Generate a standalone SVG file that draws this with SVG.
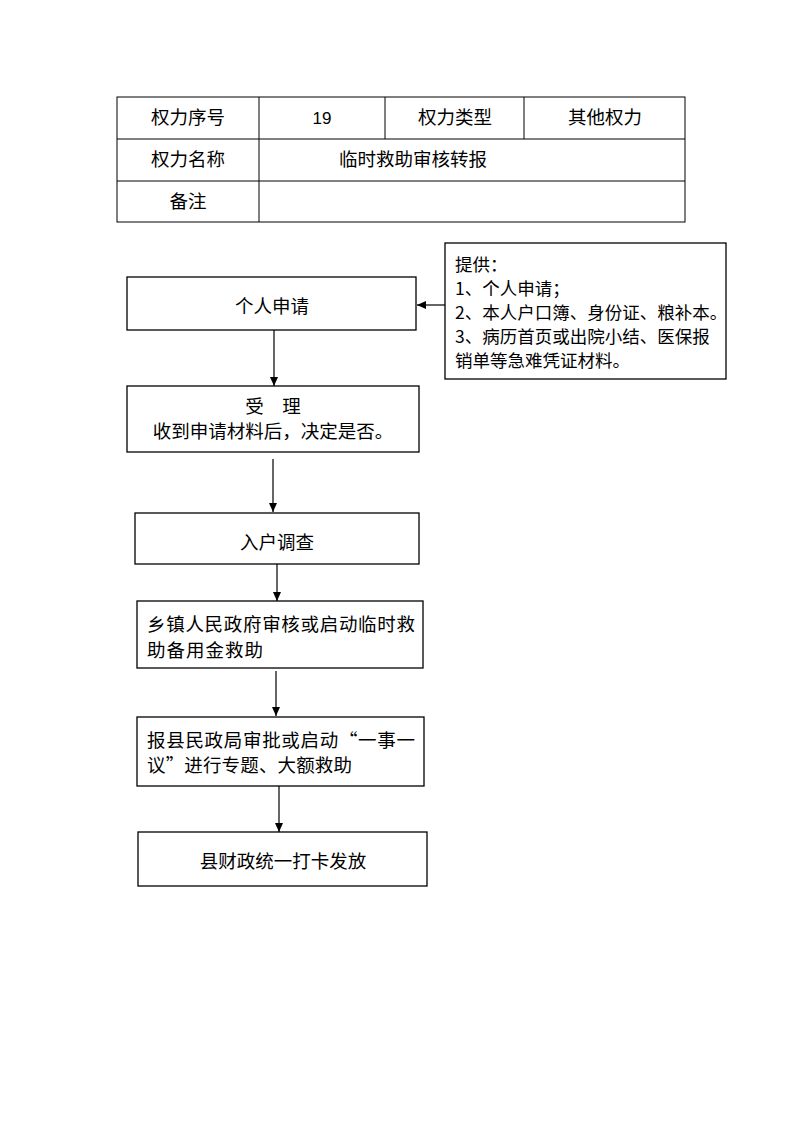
<svg xmlns="http://www.w3.org/2000/svg" width="794" height="1122" viewBox="0 0 794 1122">
<style>
text{font-family:"Noto Sans CJK SC","Liberation Sans",sans-serif;font-size:18.5px;fill:#000}
.c{text-anchor:middle}
.p{font-size:17.5px}
.box{fill:#fff;stroke:#000;stroke-width:1.3}
.ln{stroke:#000;stroke-width:1.2;fill:none}
.t{stroke:#000;stroke-width:1;fill:none}
</style>
<defs>
<marker id="ah" markerWidth="10" markerHeight="10" refX="9" refY="5" orient="auto" markerUnits="userSpaceOnUse">
<path d="M0,1 L9,5 L0,9 Z" fill="#000"/>
</marker>
</defs>
<rect width="794" height="1122" fill="#fff"/>
<g id="table">
<rect class="t" x="117" y="97" width="568" height="125"/>
<line class="t" x1="117" y1="139" x2="685" y2="139"/>
<line class="t" x1="117" y1="181" x2="685" y2="181"/>
<line class="t" x1="259" y1="97" x2="259" y2="222"/>
<line class="t" x1="385" y1="97" x2="385" y2="139"/>
<line class="t" x1="524" y1="97" x2="524" y2="139"/>
<text class="c" x="188" y="124">权力序号</text>
<text class="c" x="322" y="124" style="font-family:'Liberation Sans',sans-serif;font-size:17px">19</text>
<text class="c" x="455" y="124">权力类型</text>
<text class="c" x="605" y="124">其他权力</text>
<text class="c" x="188" y="166">权力名称</text>
<text class="c" x="413" y="166">临时救助审核转报</text>
<text class="c" x="188" y="208">备注</text>
</g>
<g id="connectors">
<line class="ln" x1="445" y1="305" x2="417" y2="305" marker-end="url(#ah)"/>
<line class="ln" x1="274" y1="330" x2="274" y2="386" marker-end="url(#ah)"/>
<line class="ln" x1="273" y1="459" x2="273" y2="512" marker-end="url(#ah)"/>
<line class="ln" x1="277" y1="564" x2="277" y2="601" marker-end="url(#ah)"/>
<line class="ln" x1="276" y1="671" x2="276" y2="716" marker-end="url(#ah)"/>
<line class="ln" x1="279" y1="786" x2="279" y2="832" marker-end="url(#ah)"/>
</g>
<g id="n_provide">
<rect class="box" x="445" y="243" width="281" height="136"/>
<text class="p" x="455" y="271">提供：</text>
<text class="p" x="455" y="295">1、个人申请；</text>
<text class="p" x="455" y="319">2、本人户口簿、身份证、粮补本。</text>
<text class="p" x="455" y="343">3、病历首页或出院小结、医保报</text>
<text class="p" x="455" y="367">销单等急难凭证材料。</text>
</g>
<g id="n_apply">
<rect class="box" x="127" y="277" width="289" height="53"/>
<text class="c" x="272" y="313">个人申请</text>
</g>
<g id="n_accept">
<rect class="box" x="127" y="386" width="292" height="66"/>
<text class="c" x="273" y="413" xml:space="preserve">受　理</text>
<text class="c" x="273" y="438">收到申请材料后，决定是否。</text>
</g>
<g id="n_survey">
<rect class="box" x="135" y="513" width="284" height="51"/>
<text class="c" x="277" y="549">入户调查</text>
</g>
<g id="n_town">
<rect class="box" x="137" y="601" width="286" height="67"/>
<text x="147" y="631" textLength="268" lengthAdjust="spacing">乡镇人民政府审核或启动临时救</text>
<text x="147" y="657" textLength="116" lengthAdjust="spacing">助备用金救助</text>
</g>
<g id="n_county">
<rect class="box" x="137" y="717" width="287" height="69"/>
<text x="147" y="747" textLength="268" lengthAdjust="spacing">报县民政局审批或启动“一事一</text>
<text x="147" y="772" textLength="205" lengthAdjust="spacing">议”进行专题、大额救助</text>
</g>
<g id="n_finance">
<rect class="box" x="138" y="832" width="289" height="54"/>
<text class="c" x="283" y="868">县财政统一打卡发放</text>
</g>
</svg>
